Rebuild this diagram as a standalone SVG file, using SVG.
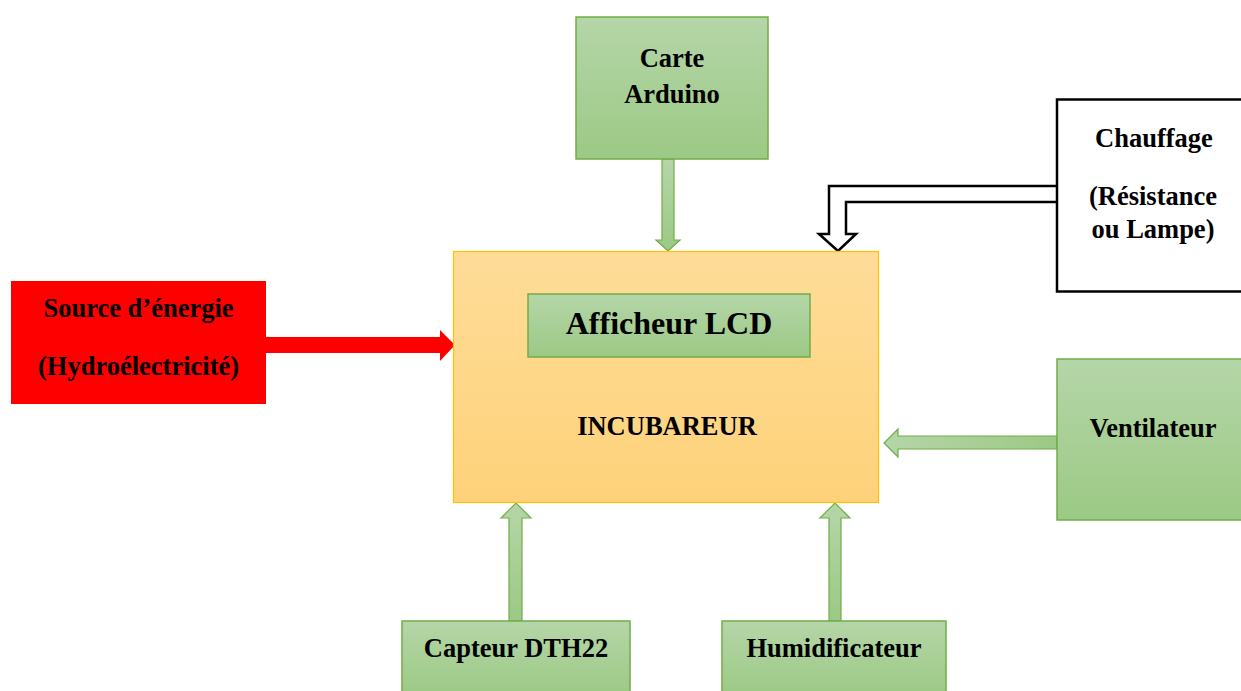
<svg xmlns="http://www.w3.org/2000/svg" width="1241" height="691" viewBox="0 0 1241 691">
<defs>
<linearGradient id="gGreen" x1="0" y1="0" x2="0" y2="1"><stop offset="0" stop-color="#b5d6a8"/><stop offset="1" stop-color="#9cc985"/></linearGradient>
<linearGradient id="gOrange" x1="0" y1="0" x2="0" y2="1"><stop offset="0" stop-color="#fedc98"/><stop offset="1" stop-color="#fed27a"/></linearGradient>
<linearGradient id="gArrowV" x1="0" y1="0" x2="0" y2="1"><stop offset="0" stop-color="#b5d6a8"/><stop offset="1" stop-color="#9cc985"/></linearGradient>
<linearGradient id="gArrowH" x1="0" y1="0" x2="1" y2="0"><stop offset="0" stop-color="#b5d6a8"/><stop offset="1" stop-color="#9cc985"/></linearGradient>
</defs>
<style>
.green{fill:url(#gGreen);stroke:#70ad47;stroke-width:1.5}
.t{font-family:"Liberation Serif","Times New Roman",serif;font-weight:bold;fill:#000;text-anchor:middle;font-size:26.5px}
.garrow{stroke:#70ad47;stroke-width:1.2}
</style>
<rect width="1241" height="691" fill="#fff"/>
<g id="connectors">
<path class="garrow" fill="url(#gArrowV)" d="M662 159 H674 V240 H680 L668 251 L656 240 H662 Z"/>
<path fill="none" stroke="#000" stroke-width="2.5" d="M1056 186 H829 V234 H819 L838 251 L856 234 H846 V202 H1056"/>
<path fill="#ff0000" d="M266 337 H440 V330 L455 345 L440 361 V353 H266 Z"/>
<path class="garrow" fill="url(#gArrowH)" d="M1057 436 H898 V429 L884 443 L898 457 V449 H1057 Z"/>
<path class="garrow" fill="url(#gArrowV)" d="M509 621 V518 H501 L516 503 L531 518 H522 V621 Z"/>
<path class="garrow" fill="url(#gArrowV)" d="M829 621 V518 H820 L835 503 L850 518 H841 V621 Z"/>
</g>
<g id="arduino">
<rect class="green" x="576" y="17" width="192" height="142"/>
<text class="t" x="672" y="67">Carte</text>
<text class="t" x="672" y="103">Arduino</text>
</g>
<g id="incubateur">
<rect x="453.5" y="251.5" width="425" height="251" fill="url(#gOrange)" stroke="#ffc000" stroke-width="1.2"/>
<text class="t" x="667" y="435">INCUBAREUR</text>
</g>
<g id="lcd">
<rect class="green" x="528" y="294" width="282" height="63"/>
<text class="t" x="669" y="334" style="font-size:32px">Afficheur LCD</text>
</g>
<g id="chauffage">
<rect x="1057" y="99.5" width="190" height="192" fill="#fff" stroke="#000" stroke-width="2.5"/>
<text class="t" x="1154" y="147">Chauffage</text>
<text class="t" x="1153" y="205">(Résistance</text>
<text class="t" x="1153" y="238">ou Lampe)</text>
</g>
<g id="source">
<rect x="11" y="281" width="255" height="123" fill="#ff0000"/>
<text class="t" x="138.5" y="317">Source d’énergie</text>
<text class="t" x="138.5" y="375">(Hydroélectricité)</text>
</g>
<g id="ventilateur">
<rect class="green" x="1057" y="359" width="190" height="161"/>
<text class="t" x="1153" y="437">Ventilateur</text>
</g>
<g id="capteur">
<rect class="green" x="402" y="621" width="228" height="75"/>
<text class="t" x="516" y="657">Capteur DTH22</text>
</g>
<g id="humidificateur">
<rect class="green" x="722" y="621" width="224" height="75"/>
<text class="t" x="834" y="657">Humidificateur</text>
</g>
</svg>
